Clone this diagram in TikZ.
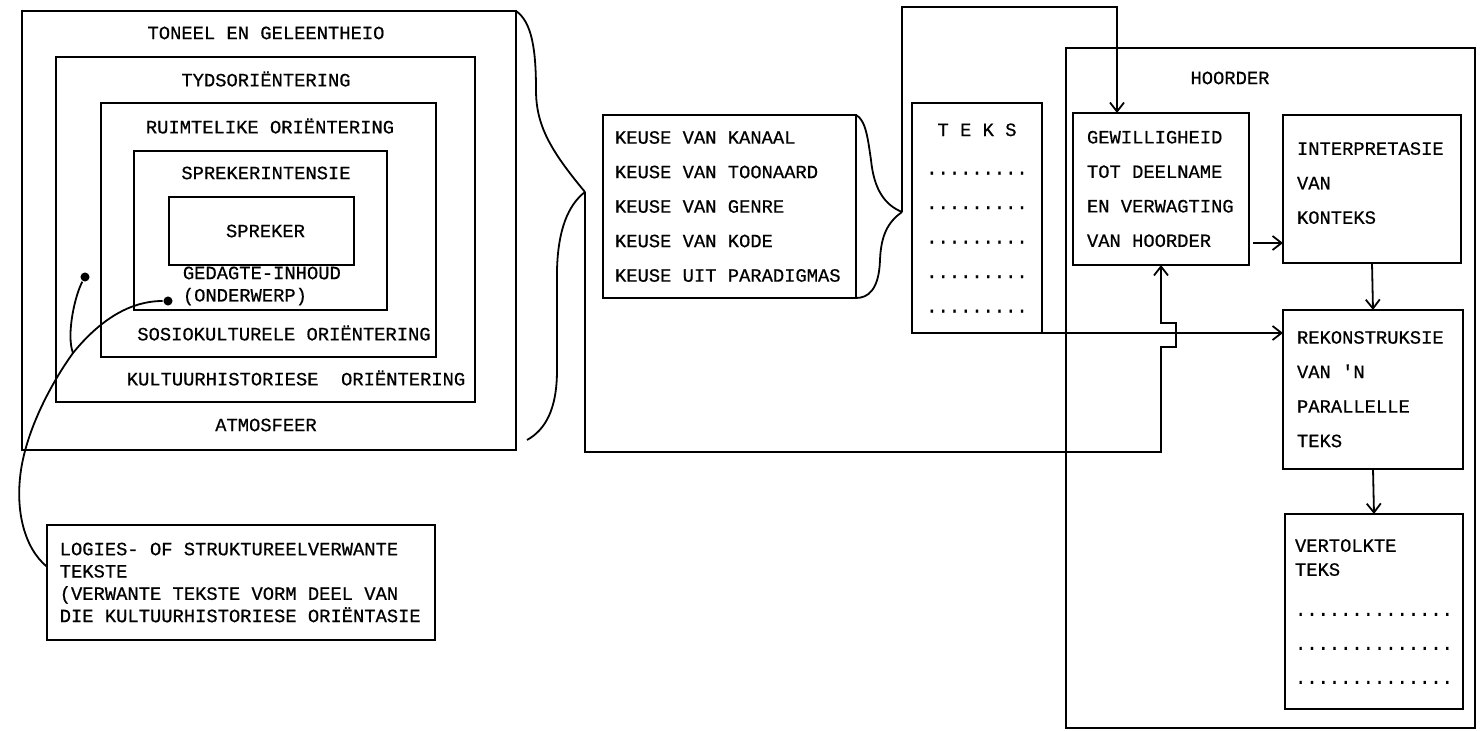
\documentclass[tikz,border=0pt]{standalone}
\usepackage{fontspec}
\newfontfamily\tw[FakeBold=0.6]{Liberation Mono}
\newcommand\twbig{\tw\fontsize{9.4}{17.25}\selectfont}
\newcommand\twsmall{\tw\fontsize{9.4}{11.15}\selectfont}
\newcommand\twmid{\tw\fontsize{9.4}{12}\selectfont}
\usetikzlibrary{positioning,arrows.meta}

\begin{document}
\begin{tikzpicture}[x=0.5pt,y=-0.5pt,line width=0.9pt,
    bx/.style={draw,inner sep=0pt,outer sep=0pt},
    lbl/.style={font=\twbig,inner sep=0pt,execute at begin node={\spaceskip 0.6em\relax}},
    lblsm/.style={font=\twsmall,inner sep=0pt,execute at begin node={\spaceskip 0.6em\relax}},
    stip/.style={circle,fill,inner sep=1.6pt},
    arr/.style={-{Straight Barb[length=4.5pt,width=7pt]}}]
  \useasboundingbox (0,0) rectangle (1484,731);

  % geneste raamwerk rondom die spreker
  \node[bx,minimum width=247pt,minimum height=219.5pt] (toneel) at (269,230.5) {};
  \node[bx,minimum width=209.5pt,minimum height=172.5pt] (tyd) at (265.5,229.5) {};
  \node[bx,minimum width=167.5pt,minimum height=127pt] (ruimte) at (268.5,230) {};
  \node[bx,minimum width=126.5pt,minimum height=79.5pt] (intensie) at (260.5,230.5) {};
  \node[bx,lbl,minimum width=92.5pt,minimum height=34pt] (spreker) at (261.5,231) {\hspace*{4pt}SPREKER};

  \node[lbl] (tToneel) at (266,33) {TONEEL EN GELEENTHEIO};
  \node[lbl] (tTyd) at (266,79) {TYDSORIËNTERING};
  \node[lbl] (tRuimte) at (270,126) {RUIMTELIKE ORIËNTERING};
  \node[lbl] (tIntensie) at (266,173) {SPREKERINTENSIE};
  \node[lblsm,anchor=west,align=left] (gedagte) at (182,286) {GEDAGTE-INHOUD\\(ONDERWERP)};
  \node[lbl] (tSosio) at (284,333) {SOSIOKULTURELE ORIËNTERING};
  \node[lbl] (tKultuur) at (296,378) {KULTUURHISTORIESE\ \ ORIËNTERING};
  \node[lbl] (tAtmos) at (266,425) {ATMOSFEER};

  % verwante tekste
  \node[stip] (d1) at (85,277) {};
  \node[stip] (d2) at (168,301) {};
  \node[bx,lblsm,minimum width=193.75pt,minimum height=57.5pt,text width=181.25pt,align=left,inner xsep=6.25pt] (logies) at (241,582.5)
    {LOGIES- OF STRUKTUREELVERWANTE\\TEKSTE\\(VERWANTE TEKSTE VORM DEEL VAN\\DIE KULTUURHISTORIESE ORIËNTASIE};
  \coordinate (join) at (73,353);
  \draw (d1) .. controls (75,295) and (66,335) .. (join);
  \draw (d2) .. controls (140,301) and (108,310) .. (join) .. controls (50,385) and (27,430) .. (21,470)
    .. controls (15,510) and (24,548) .. ([yshift=7.75pt]logies.west);

  % keuses van die spreker
  \node[bx,lbl,minimum width=126.5pt,minimum height=91.5pt,text width=114.5pt,align=left,inner xsep=6pt] (keuse) at (729.5,206.5)
    {KEUSE VAN KANAAL\\KEUSE VAN TOONAARD\\KEUSE VAN GENRE\\KEUSE VAN KODE\\KEUSE UIT PARADIGMAS};
  \coordinate (tip1) at (585,192);
  \coordinate (tip2) at (902,212);
  \draw (toneel.north east) .. controls (532,22) and (536,50) .. (536,90) .. controls (536,125) and (550,150) .. (tip1);
  \draw (tip1) .. controls (568,205) and (558,230) .. (557,270) -- (557,370) .. controls (557,410) and (545,430) .. (527,440);
  \draw (keuse.north east) .. controls (866,120) and (868,140) .. (871,160) .. controls (874,190) and (885,205) .. (tip2);
  \draw (tip2) .. controls (888,222) and (881,235) .. (880,260) .. controls (879,290) and (868,298) .. (keuse.south east);

  \node[bx,lbl,minimum width=65pt,minimum height=115pt,text width=55pt,align=center,inner xsep=5pt] (teks) at (977,218)
    {T E K S\\[2pt].........\\.........\\.........\\.........\\.........};

  % hoorder
  \node[bx,minimum width=204.5pt,minimum height=340pt] (hoorder) at (1270.5,388) {};
  \node[lbl] (tHoorder) at (1230,78) {HOORDER};
  \node[bx,lbl,minimum width=88pt,minimum height=76pt,text width=74pt,align=left,inner xsep=7pt] (gew) at (1161,189)
    {GEWILLIGHEID\\TOT DEELNAME\\EN VERWAGTING\\VAN HOORDER};
  \node[bx,lbl,minimum width=89pt,minimum height=74pt,text width=75pt,align=left,inner xsep=7pt] (interp) at (1372,189)
    {INTERPRETASIE\\VAN\\KONTEKS\\[-11.25pt]\mbox{}};
  \node[bx,lbl,minimum width=90pt,minimum height=79.5pt,text width=76pt,align=left,inner xsep=7pt] (rekon) at (1373,389.5)
    {\mbox{}\\[-11.25pt]REKONSTRUKSIE\\VAN 'N\\PARALLELLE\\TEKS};
  \node[bx,font=\twmid,minimum width=89pt,minimum height=97.5pt,text width=79pt,align=left,inner xsep=5pt,inner ysep=0pt] (vert) at (1374,611.5)
    {VERTOLKTE\\TEKS\\[8pt]..............\\[5pt]..............\\[5pt]..............};

  % verbindings
  \draw[arr] (tip2) |- (1117,7) -- (1117,7 |- gew.north);
  \draw[arr] (tip1) -- ++(0,260) -| (1161,347) -- ++(15,0) -- ++(0,-24) -- ++(-15,0) -- (gew.south);
  \draw[arr] (teks.south east) -- (teks.south east -| rekon.west);
  \draw[arr] ([xshift=2pt,yshift=11pt]gew.south east) -- ([yshift=11pt]gew.south east -| interp.west);
  \draw[arr] (interp.south) -- (rekon.north);
  \draw[arr] (rekon.south) -- (vert.north);
\end{tikzpicture}
\end{document}
